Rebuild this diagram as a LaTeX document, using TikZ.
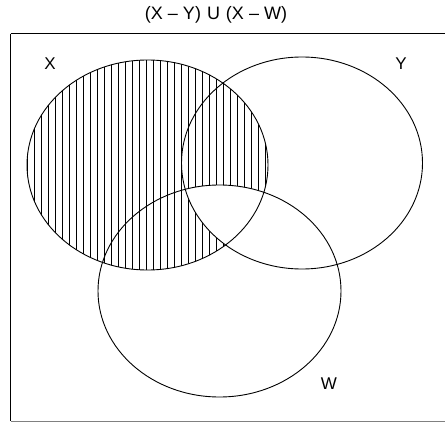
\documentclass[tikz,border=0pt]{standalone}
\usepackage{fontspec}
\setmainfont{Liberation Sans}
\begin{document}
\begin{tikzpicture}[x=1pt,y=-1pt,
  outline/.style={draw=black,line width=0.9pt},
  hatch/.style={draw=black,line width=0.6pt},
  lbl/.style={font=\fontsize{17}{19}\selectfont,inner sep=0pt}]
\useasboundingbox (0,0) rectangle (445,423);
\fill[white] (0,0) rectangle (445,423);
\def\Xell{(147.5,165) ellipse [x radius=120.5,y radius=105]}
\def\Yell{(302,163) ellipse [x radius=120.5,y radius=106]}
\def\Well{(219.5,291) ellipse [x radius=121.5,y radius=106]}
% hatch inside X
\begin{scope}
  \clip \Xell;
  \foreach \i in {0,...,36} {
    \draw[hatch] (27+7*\i,50) -- (27+7*\i,280);
  }
\end{scope}
% remove Y cap W
\begin{scope}
  \clip \Yell;
  \clip \Well;
  \fill[white] \Xell;
\end{scope}
\draw[outline] \Xell;
\draw[outline] \Yell;
\draw[outline] \Well;
\draw[line width=0.9pt] (10.5,33.5) -- (444.5,33.5);
\draw[line width=0.9pt] (10.5,33.5) -- (10.5,421);
\draw[line width=1pt,gray] (10.5,421.5) -- (445,421.5);
\node[lbl,font=\fontsize{18}{20}\selectfont] (title) at (216,15) {(X – Y)\,\,U\,\,(X – W)};
\node[lbl] (lx) at (50,64) {X};
\node[lbl] (ly) at (401,64) {Y};
\node[lbl] (lw) at (329,384) {W};
\end{tikzpicture}
\end{document}
